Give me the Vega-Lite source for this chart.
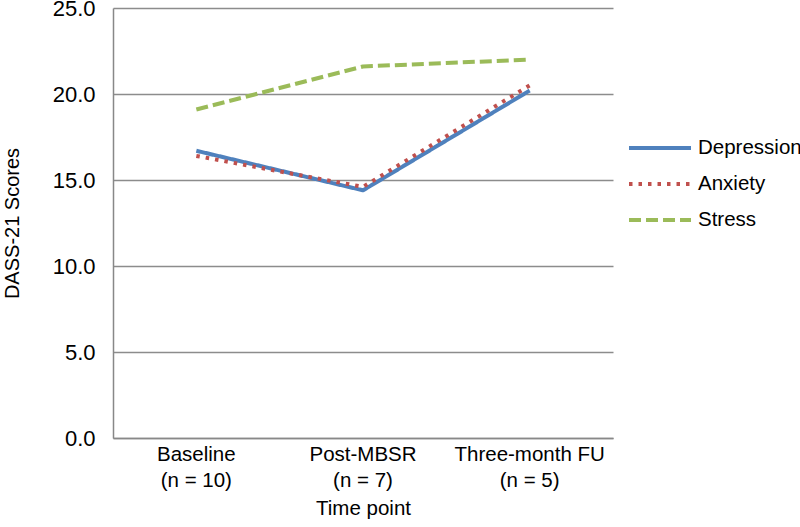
{
  "$schema": "https://vega.github.io/schema/vega-lite/v6.json",
  "width": 500,
  "height": 430,
  "autosize": "none",
  "padding": {"left": 113, "top": 8, "right": 187, "bottom": 89},
  "background": "white",
  "config": {
    "font": "Liberation Sans",
    "view": {"stroke": null},
    "axis": {"labelFont": "Liberation Sans", "titleFont": "Liberation Sans", "labelColor": "#000", "titleColor": "#000", "titleFontWeight": "normal"}
  },
  "data": {
    "values": [
      {"time": "Baseline|(n = 10)", "series": "Depression", "score": 16.7},
      {"time": "Post-MBSR|(n = 7)", "series": "Depression", "score": 14.4},
      {"time": "Three-month FU|(n = 5)", "series": "Depression", "score": 20.2},
      {"time": "Baseline|(n = 10)", "series": "Anxiety", "score": 16.4},
      {"time": "Post-MBSR|(n = 7)", "series": "Anxiety", "score": 14.6},
      {"time": "Three-month FU|(n = 5)", "series": "Anxiety", "score": 20.5},
      {"time": "Baseline|(n = 10)", "series": "Stress", "score": 19.1},
      {"time": "Post-MBSR|(n = 7)", "series": "Stress", "score": 21.6},
      {"time": "Three-month FU|(n = 5)", "series": "Stress", "score": 22.0}
    ]
  },
  "mark": {"type": "line", "strokeWidth": 4, "strokeJoin": "round"},
  "encoding": {
    "x": {
      "field": "time", "type": "nominal", "sort": null,
      "scale": {"type": "band", "paddingInner": 0, "paddingOuter": 0},
      "title": "Time point",
      "axis": {
        "labelAngle": 0, "labelFontSize": 20.5, "titleFontSize": 20.5,
        "ticks": false, "domainColor": "#888888", "domainWidth": 1.5,
        "labelPadding": 6, "labelLineHeight": 26, "titlePadding": 8,
        "labelBaseline": "top", "labelLimit": 0,
        "labelExpr": "split(datum.label, '|')"
      }
    },
    "y": {
      "field": "score", "type": "quantitative",
      "scale": {"domain": [0, 25], "nice": false, "zero": true},
      "title": "DASS-21 Scores",
      "axis": {
        "values": [0, 5, 10, 15, 20, 25], "format": ".1f",
        "labelFontSize": 22, "titleFontSize": 20, "ticks": false,
        "labelPadding": 18, "domainColor": "#888888", "domainWidth": 1.5,
        "gridColor": "#8c8c8c", "gridWidth": 1.5, "gridOpacity": 1,
        "titlePadding": 30
      }
    },
    "color": {
      "field": "series", "type": "nominal",
      "sort": ["Depression", "Anxiety", "Stress"],
      "scale": {"domain": ["Depression", "Anxiety", "Stress"], "range": ["#4F81BD", "#C0504D", "#9BBB59"]},
      "legend": {
        "title": null, "orient": "none", "legendX": 514, "legendY": 122,
        "symbolType": "stroke", "symbolSize": 3844, "symbolStrokeWidth": 4,
        "labelFontSize": 20.5, "labelColor": "#000", "labelFont": "Liberation Sans",
        "rowPadding": 0, "clipHeight": 36, "labelOffset": 5
      }
    },
    "strokeDash": {
      "field": "series", "type": "nominal",
      "sort": ["Depression", "Anxiety", "Stress"],
      "scale": {"domain": ["Depression", "Anxiety", "Stress"], "range": [[1, 0], [3.5, 6], [12, 5]]},
      "legend": null
    }
  }
}
